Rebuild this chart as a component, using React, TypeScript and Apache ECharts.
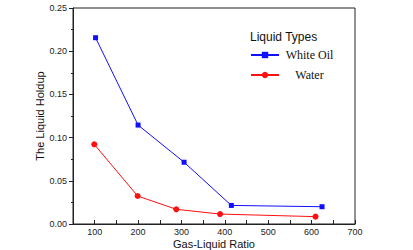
import React, { useEffect, useRef } from "react";
import * as echarts from "echarts";

const oilX = [102, 200, 306, 415, 624];
const oilY = [0.2156, 0.1145, 0.0715, 0.0215, 0.0200];
const waterX = [99, 199, 288, 389, 609];
const waterY = [0.0922, 0.0324, 0.0170, 0.0115, 0.0085];
const seriesNames = ["White Oil", "Water"];
const legendTitle = "Liquid Types";
const xName = "Gas-Liquid Ratio";
const yName = "The Liquid Holdup";

export default function App() {
  const ref = useRef<HTMLDivElement>(null);
  useEffect(() => {
    const chart = echarts.init(ref.current!, null, { renderer: "svg" });
    const axisColor = "#222";
    const sans = "'Liberation Sans', Arial, sans-serif";
    const serif = "'Liberation Serif', 'Times New Roman', serif";
    chart.setOption({
      animation: false,
      backgroundColor: "#fff",
      grid: {
        left: 73,
        right: 58,
        top: 8,
        bottom: 26,
        show: true,
        borderColor: axisColor,
        borderWidth: 1,
        containLabel: false,
        outerBoundsMode: "none",
      },
      title: {
        text: legendTitle,
        left: 250,
        top: 31,
        textStyle: { fontFamily: sans, fontSize: 12, fontWeight: "normal", color: "#111" },
        padding: 0,
      },
      legend: {
        orient: "vertical",
        left: 250,
        top: 49,
        itemWidth: 28,
        itemHeight: 8,
        itemGap: 8,
        padding: 0,
        formatter: (n: string) => `{a|${n}}`,
        textStyle: {
          fontFamily: serif,
          fontSize: 12,
          color: "#111",
          rich: { a: { width: 51, align: "center", fontFamily: serif, fontSize: 12, color: "#111" } },
        },
        data: seriesNames,
      },
      xAxis: [
        {
          type: "value",
          min: 50,
          max: 700,
          interval: 50,
          name: xName,
          nameLocation: "middle",
          nameGap: 14,
          nameMoveOverlap: false,
          nameTextStyle: { fontFamily: sans, fontSize: 11, color: "#111" },
          axisLine: { show: true, lineStyle: { color: axisColor, width: 1 } },
          axisTick: {
            show: true,
            inside: true,
            length: 4,
            interval: (i: number, v: any) => Number(v) % 100 === 0,
            lineStyle: { color: axisColor },
          },
          axisLabel: {
            fontFamily: sans,
            fontSize: 9,
            color: "#222",
            margin: 3,
            interval: (i: number, v: any) => Number(v) % 100 === 0,
            formatter: (v: number) => (v % 100 === 0 ? String(v) : ""),
          },
          splitLine: { show: false },
        },
        {
          type: "value",
          position: "bottom",
          min: 50,
          max: 700,
          interval: 50,
          axisLine: { show: false },
          axisTick: { show: true, inside: true, length: 2, lineStyle: { color: axisColor } },
          axisLabel: { show: false },
          splitLine: { show: false },
        },
      ],
      yAxis: {
        type: "value",
        min: 0,
        max: 0.25,
        interval: 0.05,
        name: yName,
        nameLocation: "middle",
        nameGap: 28,
        nameMoveOverlap: false,
        nameTextStyle: { fontFamily: sans, fontSize: 11, color: "#111" },
        axisLine: { show: true, lineStyle: { color: axisColor, width: 1 } },
        axisTick: { show: true, length: 4, lineStyle: { color: axisColor } },
        minorTick: { show: true, splitNumber: 2, length: 2, lineStyle: { color: axisColor } },
        axisLabel: {
          fontFamily: sans,
          fontSize: 9,
          color: "#222",
          margin: 6,
          formatter: (v: number) => v.toFixed(2),
        },
        splitLine: { show: false },
      },
      series: [
        {
          name: seriesNames[0],
          type: "line",
          data: oilX.map((x, i) => [x, oilY[i]]),
          symbol: "rect",
          symbolSize: 5,
          color: "#1010ff",
          lineStyle: { width: 1, color: "#1010ff" },
          itemStyle: { color: "#1010ff" },
        },
        {
          name: seriesNames[1],
          type: "line",
          data: waterX.map((x, i) => [x, waterY[i]]),
          symbol: "circle",
          symbolSize: 6,
          color: "#ff1010",
          lineStyle: { width: 1, color: "#ff1010" },
          itemStyle: { color: "#ff1010" },
        },
      ],
    });
    return () => chart.dispose();
  }, []);
  return (
    <div
      ref={ref}
      style={{ position: "fixed", left: 0, top: 0, width: 413, height: 250 }}
    />
  );
}
